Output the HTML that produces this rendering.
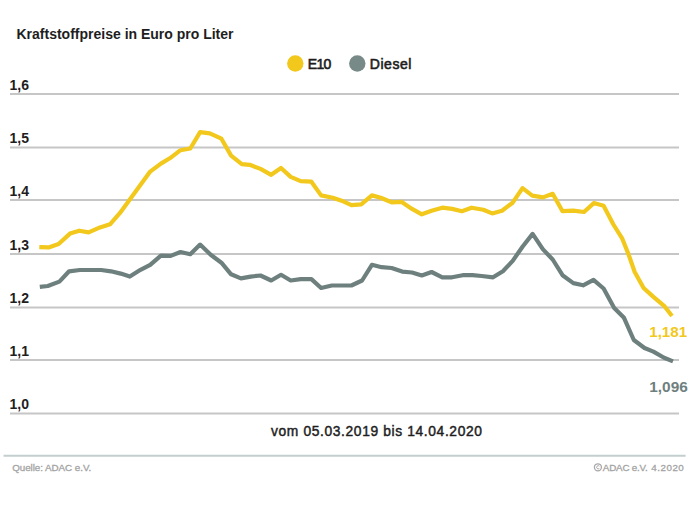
<!DOCTYPE html>
<html><head><meta charset="utf-8">
<style>
html,body{margin:0;padding:0;background:#fff;width:700px;height:506px;overflow:hidden}
svg{display:block}
text{font-family:"Liberation Sans",sans-serif}
.ax{font-size:14px;font-weight:bold;fill:#1E1E1E}
</style></head><body>
<svg width="700" height="506" viewBox="0 0 700 506">
<rect width="700" height="506" fill="#fff"/>
<text x="16.5" y="38.5" style="font-size:14px;font-weight:bold;fill:#1E1E1E">Kraftstoffpreise in Euro pro Liter</text>
<circle cx="295.3" cy="63.5" r="8.2" fill="#F2C81C"/>
<text x="307.8" y="69" textLength="23.6" lengthAdjust="spacing" style="font-size:14px;fill:#1E1E1E;stroke:#1E1E1E;stroke-width:0.6px">E10</text>
<circle cx="357.3" cy="63.5" r="8.2" fill="#788A88"/>
<text x="369.8" y="69" textLength="41.6" lengthAdjust="spacing" style="font-size:14px;fill:#1E1E1E;stroke:#1E1E1E;stroke-width:0.6px">Diesel</text>
<line x1="10" y1="94" x2="679" y2="94" stroke="#C6C6C6" stroke-width="1.9"/>
<text x="9.5" y="89.5" class="ax">1,6</text>
<line x1="10" y1="147.5" x2="679" y2="147.5" stroke="#C6C6C6" stroke-width="1.9"/>
<text x="9.5" y="143.0" class="ax">1,5</text>
<line x1="10" y1="200" x2="679" y2="200" stroke="#C6C6C6" stroke-width="1.9"/>
<text x="9.5" y="195.5" class="ax">1,4</text>
<line x1="10" y1="254" x2="679" y2="254" stroke="#C6C6C6" stroke-width="1.9"/>
<text x="9.5" y="249.5" class="ax">1,3</text>
<line x1="10" y1="307.5" x2="679" y2="307.5" stroke="#C6C6C6" stroke-width="1.9"/>
<text x="9.5" y="303.0" class="ax">1,2</text>
<line x1="10" y1="360" x2="679" y2="360" stroke="#C6C6C6" stroke-width="1.9"/>
<text x="9.5" y="355.5" class="ax">1,1</text>
<line x1="10" y1="413.5" x2="679" y2="413.5" stroke="#C6C6C6" stroke-width="1.9"/>
<text x="9.5" y="409.0" class="ax">1,0</text>

<polyline points="39.3,247.1 48.6,247.4 58.6,244 70,233.6 79.3,230.7 88.6,232.4 100,227.4 110,224.3 120,212.9 150.2,171.6 160.9,163.6 169.8,158.3 180.5,150.2 190.3,148.5 200.1,132.1 209.8,133.3 221.4,138.7 231.1,155.6 241.8,164.1 249.8,164.8 260.5,168.9 271.2,174.8 281,168 290.7,176.9 300.7,181.1 311.4,181.7 321.1,195.4 332.7,197.7 341.6,200.7 351.4,205.2 361.2,204.3 371.9,195.4 380.7,197.7 391.6,202.3 401.4,201.8 412,208.9 421.8,214.3 431.6,210.7 442.3,207.7 452.1,208.9 461.9,211.2 471.6,207.7 483.3,209.8 492.2,213.4 502,210.7 512.7,202.7 522.5,188.1 532.3,195.6 543,197.4 552.7,193.8 562.5,211.2 573.3,210.6 584,212 593.8,203.1 603.6,205.8 613.4,224.5 622.3,238.7 628.5,254.2 634.7,272 643.6,288 653.4,296.9 664.1,305.8 672,316" fill="none" stroke="#F2C81C" stroke-width="4.2" stroke-linejoin="round"/>
<polyline points="39.8,286.9 47.8,286 59.4,281.6 69.1,271.3 79.8,270 90.5,270 101.2,270 111,271.3 120.7,273.6 129.8,276.6 140.5,269.8 150.2,264.8 160.9,255.6 170.7,255.9 180.5,252 190.3,254.2 200.1,244.6 210.7,254.7 221.4,262.7 231.1,274.3 240.9,278.4 250.7,276.6 260.5,275.5 271.2,280.5 281,274.8 290.7,280.5 300.7,279.1 311.4,279.1 321.1,288 331.8,285.5 341.6,285.5 351.4,285.5 362.1,280.5 371.9,264.8 381.6,267.2 391.6,268 402.2,271.6 412,272.5 421.8,275.5 431.6,272 442.3,277.3 452.1,277.3 462.7,275.2 472.5,275.2 481.6,276 493.1,277.3 502.9,271.2 512.7,260.9 522.5,246.7 532.6,233.9 543,249.4 552.7,259.5 562.5,275.2 573.3,283.1 583.1,285.3 593.5,279.9 603.6,288.5 614.2,308 624,317.8 633.8,340 644.5,348 653.4,351.6 664.1,357.8 673,361.4" fill="none" stroke="#6E807E" stroke-width="4.2" stroke-linejoin="round"/>
<text x="649.2" y="336.8" textLength="38" lengthAdjust="spacing" style="font-size:15.2px;font-weight:bold;fill:#F2C81C">1,181</text>
<text x="649.2" y="391.6" textLength="38.6" lengthAdjust="spacing" style="font-size:15.4px;font-weight:bold;fill:#6E807E">1,096</text>
<text x="271" y="435.8" style="font-size:13.8px;fill:#1E1E1E;stroke:#1E1E1E;stroke-width:0.45px;letter-spacing:0.63px">vom 05.03.2019 bis 14.04.2020</text>
<line x1="3.5" y1="455.8" x2="685.6" y2="455.8" stroke="#C3CECE" stroke-width="2"/>
<text x="12.2" y="470.9" textLength="79" lengthAdjust="spacing" style="font-size:9.8px;fill:#A3A3A3;stroke:#A3A3A3;stroke-width:0.3px">Quelle: ADAC e.V.</text>
<circle cx="597.9" cy="467.3" r="3.5" fill="none" stroke="#A8A8A8" stroke-width="1.3"/>
<path d="M599.3 466.1 A1.6 1.6 0 1 0 599.3 468.5" fill="none" stroke="#A8A8A8" stroke-width="1"/>
<text x="602.8" y="470.9" textLength="45" lengthAdjust="spacing" style="font-size:9.8px;fill:#A3A3A3;stroke:#A3A3A3;stroke-width:0.3px">ADAC e.V.</text>
<text x="651.3" y="470.9" textLength="32.5" lengthAdjust="spacing" style="font-size:9.8px;fill:#A3A3A3;stroke:#A3A3A3;stroke-width:0.3px">4.2020</text>
</svg>
</body></html>
